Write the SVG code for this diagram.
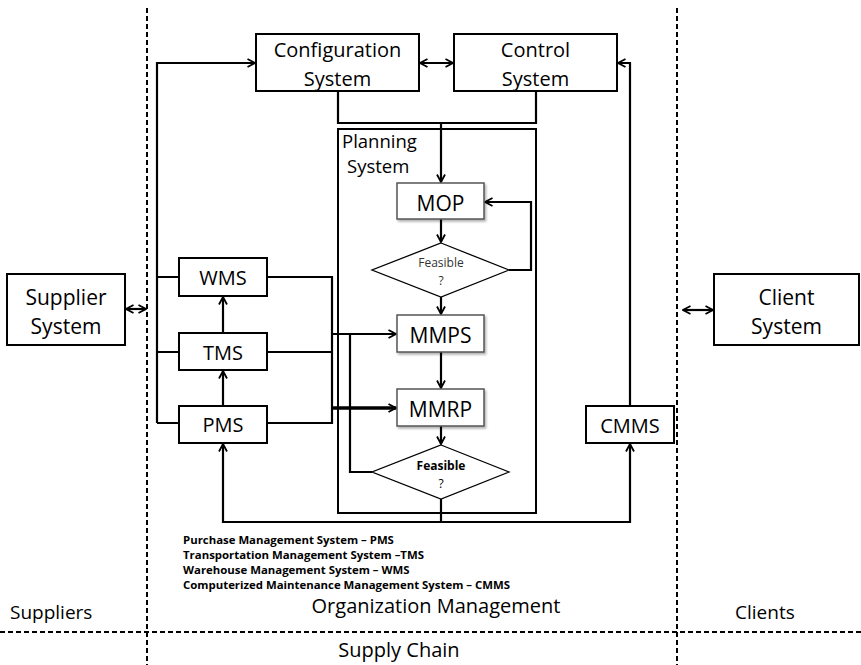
<svg xmlns="http://www.w3.org/2000/svg" width="861" height="665" viewBox="0 0 861 665">
<defs>
<marker id="arr" viewBox="0 0 10 10" markerUnits="userSpaceOnUse" markerWidth="10" markerHeight="10" refX="9" refY="5" orient="auto-start-reverse">
<path d="M1.5,1 L9,5 L1.5,9" fill="none" stroke="#000" stroke-width="1.8"/>
</marker>
<filter id="sh" x="-10%" y="-10%" width="130%" height="140%">
<feDropShadow dx="1.5" dy="2" stdDeviation="1.2" flood-color="#000" flood-opacity="0.3"/>
</filter>
</defs>
<style>
text{font-family:"Open Sans","Liberation Sans",sans-serif;fill:#000}
.box{fill:#fff;stroke:#000;stroke-width:2}
.pbox{fill:#fff;stroke:#555;stroke-width:1.5}
.dia{fill:#fff;stroke:#000;stroke-width:1.3}
.t20{font-size:20px;text-anchor:middle}
.t21{font-size:21px;text-anchor:middle}
.fs{font-size:12px;text-anchor:middle}
.leg{font-size:11.4px;font-weight:bold}
.c{fill:none;stroke:#000;stroke-width:2.2}
.a{marker-end:url(#arr)}
.aa{marker-start:url(#arr);marker-end:url(#arr)}
.dash{fill:none;stroke:#000;stroke-width:2;stroke-dasharray:5,3}
</style>
<rect width="861" height="665" fill="#fff"/>
<g id="boundaries">
<path class="dash" d="M147,8 V665"/>
<path class="dash" d="M677,8 V665"/>
<path class="dash" d="M0,632 H861"/>
</g>
<g id="planning-system">
<rect class="box" x="338" y="129" width="198" height="384"/>
<text x="342" y="148" style="font-size:18.5px">Planning</text>
<text x="347" y="173" style="font-size:18.5px">System</text>
</g>
<g id="connectors">
<path class="c a" d="M157,423 V63 H255"/>
<path class="c aa" d="M420,63 H453"/>
<path class="c a" d="M630,406 V63 H618"/>
<path class="c" d="M338,91 V123 H536 V91"/>
<path class="c a" d="M441,123 V182"/>
<path class="c a" d="M441,219 V242"/>
<path class="c a" d="M509,270 H531 V202 H485"/>
<path class="c a" d="M441,297 V314"/>
<path class="c a" d="M441,352 V388"/>
<path class="c a" d="M441,426 V444"/>
<path class="c" d="M441,499 V522"/>
<path class="c aa" d="M223,444 V522 H630 V444"/>
<path class="c" d="M267,277 H332 V423 H267"/>
<path class="c" d="M267,352 H332"/>
<path class="c" d="M157,277 H179 M157,352 H179 M157,423 H179"/>
<path class="c a" d="M223,406 V371"/>
<path class="c a" d="M223,333 V297"/>
<path class="c a" d="M332,334 H396"/>
<path class="c a" d="M332,408 H396" style="stroke-width:3.5"/>
<path class="c" d="M372,472 H350 V334"/>
<path class="c aa" d="M126,309 H146"/>
<path class="c aa" d="M683,310 H713"/>
</g>
<g id="configuration-system">
<rect class="box" x="256" y="34" width="163" height="57"/>
<text class="t20" x="337.5" y="57">Configuration</text>
<text class="t20" x="337.5" y="86">System</text>
</g>
<g id="control-system">
<rect class="box" x="454" y="34" width="163" height="57"/>
<text class="t20" x="535.5" y="57">Control</text>
<text class="t20" x="535.5" y="86">System</text>
</g>
<g id="mop">
<rect class="pbox" filter="url(#sh)" x="397" y="183" width="87" height="36"/>
<text class="t21" x="440.5" y="211">MOP</text>
</g>
<g id="feasible-1">
<polygon class="dia" points="441,243 509,270 441,297 372,270"/>
<text class="fs" x="441" y="267" style="fill:#333">Feasible</text>
<text class="fs" x="441" y="285" style="fill:#333">?</text>
</g>
<g id="mmps">
<rect class="pbox" filter="url(#sh)" x="397" y="315" width="87" height="37"/>
<text class="t21" x="440.5" y="343">MMPS</text>
</g>
<g id="mmrp">
<rect class="pbox" filter="url(#sh)" x="397" y="389" width="87" height="37"/>
<text class="t21" x="440.5" y="417">MMRP</text>
</g>
<g id="feasible-2">
<polygon class="dia" points="441,445 509,472 441,499 372,472"/>
<text class="fs" x="441" y="470" style="font-weight:bold">Feasible</text>
<text class="fs" x="441" y="488">?</text>
</g>
<g id="wms">
<rect class="box" x="179" y="258" width="88" height="38"/>
<text class="t20" x="223" y="285">WMS</text>
</g>
<g id="tms">
<rect class="box" x="179" y="333" width="88" height="37"/>
<text class="t20" x="223" y="360">TMS</text>
</g>
<g id="pms">
<rect class="box" x="179" y="406" width="88" height="37"/>
<text class="t20" x="223" y="432">PMS</text>
</g>
<g id="cmms">
<rect class="box" x="586" y="406" width="88" height="37"/>
<text class="t20" x="630" y="433">CMMS</text>
</g>
<g id="supplier-system">
<rect class="box" x="7" y="274" width="118" height="71"/>
<text class="t21" x="66" y="305">Supplier</text>
<text class="t21" x="66" y="334">System</text>
</g>
<g id="client-system">
<rect class="box" x="714" y="274" width="145" height="71"/>
<text class="t21" x="786.5" y="305">Client</text>
<text class="t21" x="786.5" y="334">System</text>
</g>
<g id="legend">
<text class="leg" x="183" y="544">Purchase Management System – PMS</text>
<text class="leg" x="183" y="559">Transportation Management System –TMS</text>
<text class="leg" x="183" y="574">Warehouse Management System – WMS</text>
<text class="leg" x="183" y="589">Computerized Maintenance Management System – CMMS</text>
</g>
<g id="labels">
<text x="436" y="613" style="font-size:20px;text-anchor:middle">Organization Management</text>
<text x="10" y="619" style="font-size:19px">Suppliers</text>
<text x="735" y="619" style="font-size:19px">Clients</text>
<text x="399" y="657" style="font-size:20px;text-anchor:middle">Supply Chain</text>
</g>
</svg>
